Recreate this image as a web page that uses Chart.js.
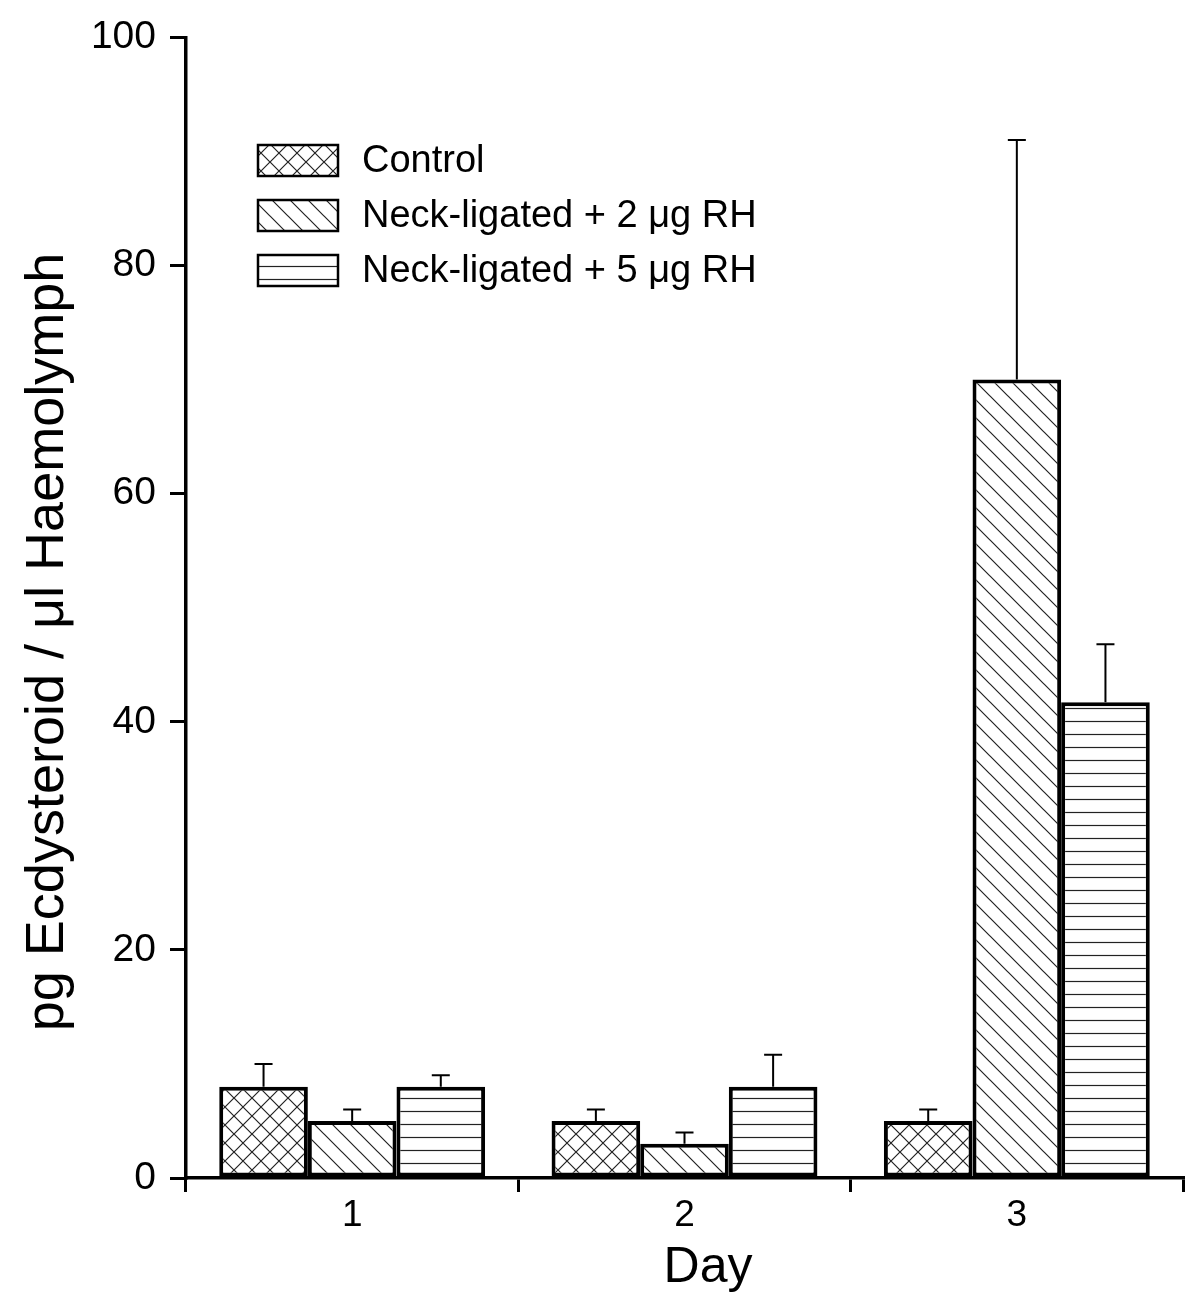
<!DOCTYPE html>
<html>
<head>
<meta charset="utf-8">
<script src="https://cdn.jsdelivr.net/npm/chart.js@4"></script>
<style>
  body { margin: 0; background: #fff; }
  #wrap { width: 1190px; height: 1300px; position: relative; }
</style>
</head>
<body>
<div id="wrap"><canvas id="chart"></canvas></div>
<script>
// ------------------------------
// Data
// ------------------------------
const days = ["1", "2", "3"];
const seriesNames = ["Control", "Neck-ligated + 2 \u03BCg RH", "Neck-ligated + 5 \u03BCg RH"];
const control = [8, 5, 5];
const controlErr = [2, 1, 1];
const neck2 = [5, 3, 70];
const neck2Err = [1, 1, 21];
const neck5 = [8, 8, 41.7];
const neck5Err = [1, 2.8, 5.1];
const yTicks = [0, 20, 40, 60, 80, 100];

const FONT = "'Liberation Sans', Arial, Helvetica, sans-serif";

// ------------------------------
// Hatch patterns
// ------------------------------
function makePattern(kind) {
    const s = kind === "horiz" ? 13 : 18;
    const c = document.createElement("canvas");
    c.width = s; c.height = s;
    const g = c.getContext("2d");
    g.fillStyle = "#fff";
    g.fillRect(0, 0, s, s);
    g.strokeStyle = "#222";
    g.lineWidth = 1.2;
    g.beginPath();
    if (kind === "horiz") {
        g.moveTo(0, s / 2); g.lineTo(s, s / 2);
    }
    if (kind === "back" || kind === "cross") {
        g.moveTo(-2, -2); g.lineTo(s + 2, s + 2);
        g.moveTo(-2, s - 2); g.lineTo(2, s + 2);
        g.moveTo(s - 2, -2); g.lineTo(s + 2, 2);
    }
    if (kind === "cross") {
        g.moveTo(-2, s + 2); g.lineTo(s + 2, -2);
        g.moveTo(-2, 2); g.lineTo(2, -2);
        g.moveTo(s - 2, s + 2); g.lineTo(s + 2, s - 2);
    }
    g.stroke();
    return g.createPattern(c, "repeat");
}

const ctx = document.getElementById("chart").getContext("2d");
const fills = [makePattern("cross"), makePattern("back"), makePattern("horiz")];
const errs = [controlErr, neck2Err, neck5Err];

// ------------------------------
// Error bars (upper only)
// ------------------------------
const errorBars = {
    id: "errorBars",
    afterDatasetsDraw(chart) {
        const g = chart.ctx;
        const y = chart.scales.y;
        g.save();
        g.strokeStyle = "#000";
        g.lineWidth = 2;
        chart.data.datasets.forEach((ds, i) => {
            const meta = chart.getDatasetMeta(i);
            meta.data.forEach((bar, j) => {
                const top = y.getPixelForValue(ds.data[j] + errs[i][j]);
                g.beginPath();
                g.moveTo(bar.x, bar.y);
                g.lineTo(bar.x, top);
                g.moveTo(bar.x - 9, top);
                g.lineTo(bar.x + 9, top);
                g.stroke();
            });
        });
        g.restore();
    }
};

// ------------------------------
// Legend inside plot + axis titles
// ------------------------------
const boxLegend = {
    id: "boxLegend",
    afterDraw(chart) {
        const g = chart.ctx;
        g.save();
        g.font = "38px " + FONT;
        g.textBaseline = "middle";
        seriesNames.forEach((name, i) => {
            const top = 145 + i * 55;
            g.fillStyle = fills[i];
            g.fillRect(258, top, 80, 31);
            g.strokeStyle = "#000";
            g.lineWidth = 2.5;
            g.strokeRect(258, top, 80, 31);
            g.fillStyle = "#000";
            g.fillText(name, 362, top + 17);
        });

        // axis titles
        g.textAlign = "center";
        g.font = "50px " + FONT;
        g.fillText("Day", 708, 1268);
        g.translate(48, 642);
        g.rotate(-Math.PI / 2);
        g.font = "54px " + FONT;
        g.fillText("pg Ecdysteroid / \u03BCl Haemolymph", 0, 0);
        g.restore();
    }
};

// ------------------------------
// Bar Chart
// ------------------------------
const chart = new Chart(ctx, {
    type: "bar",
    data: {
        labels: days,
        datasets: [control, neck2, neck5].map((d, i) => ({
            label: seriesNames[i],
            data: d,
            backgroundColor: fills[i],
            borderColor: "#000",
            borderWidth: 4,
            borderSkipped: false,
            categoryPercentage: 0.8,
            barPercentage: 1.0
        }))
    },
    options: {
        responsive: true,
        maintainAspectRatio: false,
        animation: false,
        layout: { padding: { top: 36, right: 7, bottom: 0, left: 0 } },
        plugins: {
            legend: { display: false },
            tooltip: { enabled: false }
        },
        scales: {
            x: {
                grid: {
                    display: true,
                    offset: true,
                    drawOnChartArea: false,
                    color: "#000",
                    lineWidth: 3,
                    tickLength: 14
                },
                border: { display: true, color: "#000", width: 3.5 },
                ticks: {
                    color: "#000",
                    font: { family: FONT, size: 37 },
                    padding: 2
                },
                afterFit(s) { s.height = 122; }
            },
            y: {
                min: 0,
                max: 100,
                afterBuildTicks(s) { s.ticks = yTicks.map(v => ({ value: v })); },
                grid: {
                    display: true,
                    drawOnChartArea: false,
                    color: "#000",
                    lineWidth: 3,
                    tickLength: 16
                },
                border: { display: true, color: "#000", width: 3.5 },
                ticks: {
                    color: "#000",
                    font: { family: FONT, size: 39 },
                    padding: 14
                },
                afterFit(s) { s.width = 186; }
            }
        }
    },
    plugins: [errorBars, boxLegend]
});
</script>
</body>
</html>
